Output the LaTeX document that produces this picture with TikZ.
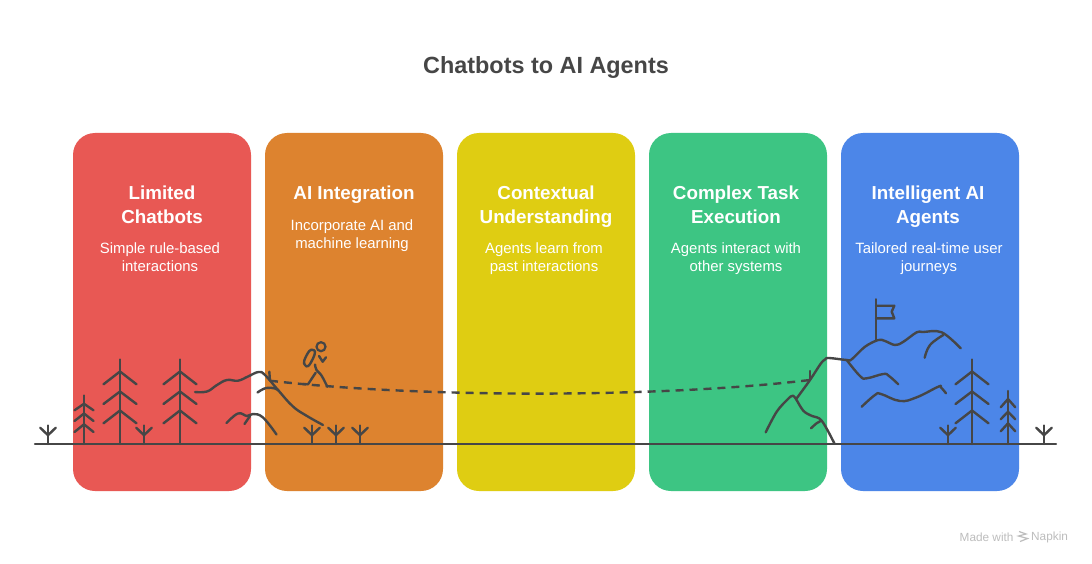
\documentclass[tikz,border=0pt]{standalone}
\usepackage{fontspec}
\setmainfont{Liberation Sans}
\definecolor{ink}{HTML}{464646}
\definecolor{cardred}{HTML}{E85854}
\definecolor{cardorange}{HTML}{DD832F}
\definecolor{cardyellow}{HTML}{DFCD12}
\definecolor{cardgreen}{HTML}{3DC583}
\definecolor{cardblue}{HTML}{4C86E8}
\definecolor{wmark}{HTML}{BDBDBD}
\newcommand{\hs}{\rule[-5pt]{0pt}{22pt}}
\newcommand{\bs}{\rule[-4pt]{0pt}{16pt}}
\tikzset{
  card/.style={rounded corners=22pt,minimum width=178pt,minimum height=358pt,inner sep=0pt,draw=none},
  head/.style={text=white,align=center,font=\fontsize{18.8}{24}\selectfont\bfseries,inner sep=0pt,anchor=center},
  sub/.style={text=white,align=center,font=\fontsize{14.9}{18}\selectfont,inner sep=0pt,anchor=center},
  ln/.style={draw=ink,line width=2.4pt,line cap=round,line join=round},
  wmtext/.style={text=wmark,font=\fontsize{11.8}{14}\selectfont,inner sep=0pt}
}
\newcommand{\sprout}[1]{%
  \draw[ln] (#1,444) -- (#1,425.5);
  \draw[ln] (#1-7.7,427.8) -- (#1,435.2) -- (#1+7.7,427.8);}
\newcommand{\bigtree}[1]{%
  \draw[ln] (#1,444) -- (#1,359.5);
  \draw[ln] (#1-16.5,384.3) -- (#1,371.5) -- (#1+16.5,384.3);
  \draw[ln] (#1-16.5,404) -- (#1,391.5) -- (#1+16.5,404);
  \draw[ln] (#1-16.5,423.3) -- (#1,410.5) -- (#1+16.5,423.3);}
\begin{document}
\begin{tikzpicture}[x=1pt,y=-1pt]
\useasboundingbox (0,0) rectangle (1092,564);
\fill[white] (0,0) rectangle (1092,564);
\node[text=ink,font=\fontsize{23.4}{28}\selectfont\bfseries,inner sep=0pt] (title) at (546,68) {Chatbots to AI Agents};

\node[card,fill=cardred] (c1) at (162,312) {};
\node[card,fill=cardorange] (c2) at (354,312) {};
\node[card,fill=cardyellow] (c3) at (546,312) {};
\node[card,fill=cardgreen] (c4) at (738,312) {};
\node[card,fill=cardblue] (c5) at (930,312) {};

\node[head] (h1) at (162,205.5) {\hs Limited\\\hs Chatbots};
\node[head] (h2) at (354,193.5) {\hs AI Integration};
\node[head] (h3) at (546,205.5) {\hs Contextual\\\hs Understanding};
\node[head] (h4) at (736,205.5) {\hs Complex Task\\\hs Execution};
\node[head] (h5) at (928,205.5) {\hs Intelligent AI\\\hs Agents};

\node[sub] (s1) at (160,258) {\bs Simple rule-based\\\bs interactions};
\node[sub] (s2) at (352,235) {\bs Incorporate AI and\\\bs machine learning};
\node[sub] (s3) at (544,258) {\bs Agents learn from\\\bs past interactions};
\node[sub] (s4) at (736,258) {\bs Agents interact with\\\bs other systems};
\node[sub] (s5) at (929,258) {\bs Tailored real-time user\\\bs journeys};

% ground
\draw[ln] (35,444) -- (1056,444);
\sprout{48}\sprout{144}\sprout{312}\sprout{336}\sprout{360}\sprout{948}\sprout{1044}
\bigtree{120}\bigtree{180}\bigtree{972}
% small left tree
\draw[ln] (84,444) -- (84,395.5);
\draw[ln] (74.5,410.3) -- (84,403.8) -- (93.5,410.3);
\draw[ln] (74.5,421) -- (84,413.5) -- (93.5,421);
\draw[ln] (74.5,432) -- (84,424.3) -- (93.5,432);
% small right tree
\draw[ln] (1008,444) -- (1008,391);
\draw[ln] (1000.7,407.3) -- (1008,399) -- (1015.3,407.3);
\draw[ln] (1000.7,419.3) -- (1008,411.7) -- (1015.3,419.3);
\draw[ln] (1000.7,431.3) -- (1008,423.3) -- (1015.3,431.3);

% left hills
\draw[ln] plot[smooth,tension=0.7] coordinates {(195,392) (207,391.5) (217,385) (227,380) (238,380.7) (248,376.5) (258.5,372) (265,375) (278,390) (293,406.5) (307,416) (323,425)};
\draw[ln] plot[smooth,tension=0.7] coordinates {(257.5,392.5) (266,388) (275,388.5) (279,391)};
\draw[ln] plot[smooth,tension=0.7] coordinates {(226.5,423) (238,413.5) (247,416) (253,414) (263,417.5) (276.5,434.5)};
\draw[ln] (244.5,424) -- (250,416);

% tick marks and dashed trail
\coordinate (trailA) at (270,380.7);
\coordinate (trailB) at (810,380);
\draw[ln] (269.3,371.7) -- (trailA);
\draw[ln] (810,371) -- (trailB);
\draw[ln,dash pattern=on 8pt off 6pt,line cap=butt] (trailA) .. controls (420,398) and (660,398) .. (trailB);

% walker
\draw[ink,line width=2.2pt] (321,346.7) circle (4.5);
\draw[ln] plot[smooth cycle,tension=0.7] coordinates {(304.3,360.5) (309.3,351) (313,350) (315,352) (313,358.5) (308.3,366) (305,365)};
\draw[ln] (319,356) -- (322.7,361.7) -- (326,357.3);
\draw[ln] plot[smooth,tension=0.7] coordinates {(315,364.5) (316.5,370) (321.5,375.5) (327.3,386.7)};
\draw[ln] (315.7,372.7) -- (308,384.3) -- (302.7,384);

% right hills
\draw[ln] plot[smooth,tension=0.6] coordinates {(765.7,432.3) (776.7,411.7) (788,399) (792,396) (795,397.5) (803.3,410.7) (812,416) (821.7,420.7) (834.3,443.3)};
\draw[ln] plot[smooth,tension=0.6] coordinates {(796.7,398.3) (810,380) (820.5,364) (825,359.5) (829,358) (846.7,360) (851.7,359.3) (865,346.7) (878.3,340) (885,341) (895,345) (903,342) (916.7,332.3) (923,332) (941.7,332.3) (960.7,348.3)};
\draw[ln] plot[smooth,tension=0.7] coordinates {(943.3,335) (930,345) (924.7,357.7)};
\draw[ln] plot[smooth,tension=0.7] coordinates {(846.7,360) (860,376) (866.7,378.3) (883.3,374) (889,376) (898.3,384.3)};
\draw[ln] plot[smooth,tension=0.7] coordinates {(861.7,406.7) (875,395) (881,394) (900,401) (916.7,397.3) (938.3,386.7) (941,387.5) (946,393.3)};
\draw[ln] plot[smooth,tension=0.7] coordinates {(811,428.3) (817,423) (821.7,420.7)};

% flag
\draw[ln] (876,299.3) -- (876,340);
\draw[ln] (876,305.7) -- (894.3,305.7) -- (891.7,311.7) -- (894.3,318.3) -- (876,318.3);

% watermark
\node[wmtext,anchor=west] (wm1) at (959.5,537) {Made with};
\node[wmtext,anchor=west] (wm2) at (1031,537) {Napkin};
\draw[wmark,line width=1.2pt] (1019,531.5) -- (1026,534) -- (1018.5,536) -- (1027.5,538.5) -- (1020,541.5);
\end{tikzpicture}
\end{document}
